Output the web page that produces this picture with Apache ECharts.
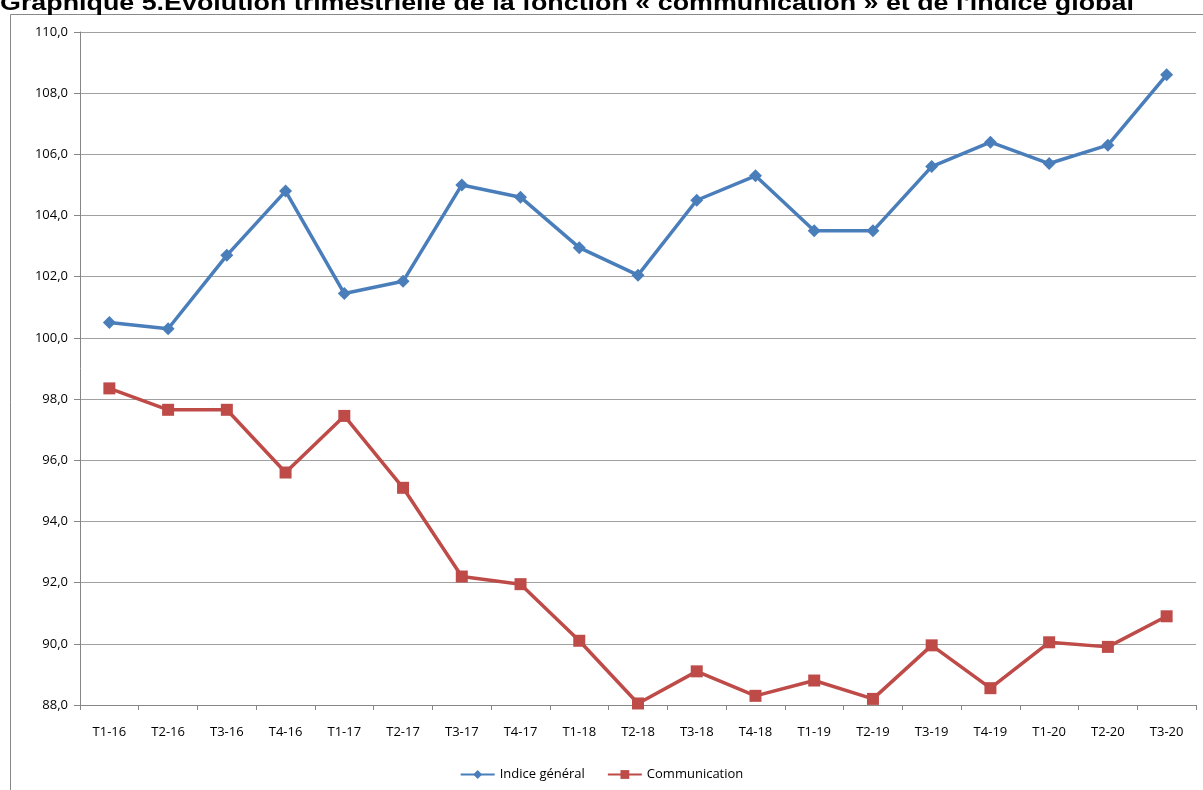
<!DOCTYPE html>
<html>
<head>
<meta charset="utf-8">
<script src="https://cdn.jsdelivr.net/npm/echarts@6/dist/echarts.min.js"></script>
<style>
html,body{margin:0;padding:0;background:#fff;}
#chart{width:1203px;height:790px;}
</style>
</head>
<body>
<div id="chart"></div>
<script>
const titleText = "Graphique 5.Evolution trimestrielle de la fonction « communication » et de l'indice global";
const categories = ["T1-16","T2-16","T3-16","T4-16","T1-17","T2-17","T3-17","T4-17","T1-18","T2-18","T3-18","T4-18","T1-19","T2-19","T3-19","T4-19","T1-20","T2-20","T3-20"];
const indiceGeneral = [100.5,100.3,102.7,104.8,101.45,101.85,105.0,104.6,102.95,102.05,104.5,105.3,103.5,103.5,105.6,106.4,105.7,106.3,108.6];
const communication = [98.35,97.65,97.65,95.6,97.45,95.1,92.2,91.95,90.1,88.05,89.1,88.3,88.8,88.2,89.95,88.55,90.05,89.9,90.9];
const seriesNames = ["Indice général","Communication"];
const yMin = 88, yMax = 110, yStep = 2;

const chart = echarts.init(document.getElementById('chart'), null, {renderer:'canvas'});
const lbl = {fontFamily:'Open Sans', fontSize:13, color:'#000'};
chart.setOption({
  animation:false,
  backgroundColor:'#fff',
  graphic:[
    {type:'rect',shape:{x:10.5,y:14.5,width:1300,height:900},style:{fill:'none',stroke:'#888',lineWidth:1},z:1},
    {type:'text',x:0,y:-7,scaleX:1.22,z:5,style:{text:titleText,fontFamily:'Liberation Sans',fontWeight:'bold',fontSize:22,fill:'#000',textVerticalAlign:'top'}}
  ],
  grid:{left:80,right:7,top:32,bottom:85,containLabel:false},
  legend:{bottom:4,left:'center',itemWidth:34,itemHeight:11,itemGap:22,
    textStyle:{fontFamily:'Open Sans',fontSize:13,color:'#000'},data:seriesNames},
  xAxis:{type:'category',data:categories,boundaryGap:true,
    axisLine:{lineStyle:{color:'#868686'}},
    axisTick:{show:true,length:5,lineStyle:{color:'#868686'}},
    axisLabel:Object.assign({margin:21,interval:0},lbl)},
  yAxis:{type:'value',min:yMin,max:yMax,interval:yStep,
    axisLine:{show:true,lineStyle:{color:'#868686'}},
    axisTick:{show:true,length:6,lineStyle:{color:'#868686'}},
    splitLine:{lineStyle:{color:'#A0A0A0',width:1}},
    axisLabel:Object.assign({margin:12,formatter:v=>v.toFixed(1).replace('.',',')},lbl)},
  series:[
    {name:seriesNames[0],type:'line',data:indiceGeneral,symbol:'diamond',symbolSize:13,
     lineStyle:{color:'#4A7EBB',width:3.5},itemStyle:{color:'#4A7EBB'}},
    {name:seriesNames[1],type:'line',data:communication,symbol:'rect',symbolSize:12,
     lineStyle:{color:'#BE4B48',width:3.5},itemStyle:{color:'#BE4B48'}}
  ]
});
</script>
</body>
</html>
